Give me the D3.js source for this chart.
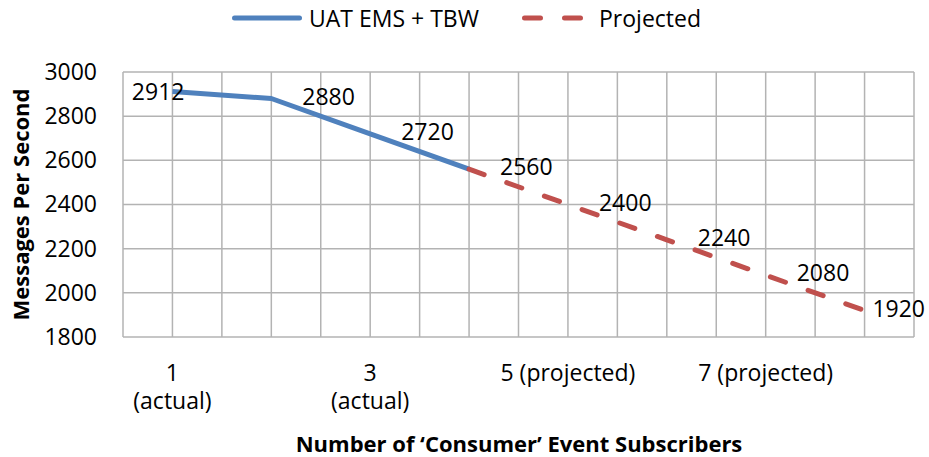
<!DOCTYPE html>
<html>
<head>
<meta charset="utf-8">
<script src="https://cdn.jsdelivr.net/npm/d3@7"></script>
<style>
  body { margin: 0; background: #fff; }
  svg { display: block; font-family: "Open Sans", sans-serif; }
</style>
</head>
<body>
<div id="chart"></div>
<script>
// chart data
const categories = ["1", "2", "3", "4", "5", "6", "7", "8"];
const actualCats = ["1", "2", "3", "4"];
const actualValues = [2912, 2880, 2720, 2560];
const projectedCats = ["4", "5", "6", "7", "8"];
const projectedValues = [2560, 2400, 2240, 2080, 1920];
const tickCats = ["1", "3", "5", "7"];
const tickLines = [["1", "(actual)"], ["3", "(actual)"], ["5 (projected)"], ["7 (projected)"]];
const yTicks = [1800, 2000, 2200, 2400, 2600, 2800, 3000];
const seriesNames = ["UAT EMS + TBW", "Projected"];

const W = 929, H = 457;
const margin = {top: 72, right: 15, bottom: 120, left: 123};
const blue = "#4F81BD", red = "#C0504D", grid = "#B3B3B3";
const fontSize = 23;

const svg = d3.select("#chart").append("svg")
    .attr("width", W)
    .attr("height", H);

// scales
const x = d3.scaleBand()
    .domain(categories)
    .range([margin.left, W - margin.right]);
const y = d3.scaleLinear()
    .domain([1800, 3000])
    .range([H - margin.bottom, margin.top]);
const cx = c => x(c) + x.bandwidth() / 2;

// gridlines (major at category edges, minor at centres)
let vLines = [];
categories.forEach(c => { vLines.push(x(c)); vLines.push(cx(c)); });
vLines.push(x.range()[1]);

svg.append("g").selectAll("line")
    .data(yTicks)
    .enter().append("line")
    .attr("x1", x.range()[0]).attr("x2", x.range()[1])
    .attr("y1", d => y(d)).attr("y2", d => y(d))
    .attr("stroke", grid).attr("stroke-width", 1.5);

svg.append("g").selectAll("line")
    .data(vLines)
    .enter().append("line")
    .attr("x1", d => d).attr("x2", d => d)
    .attr("y1", y(3000)).attr("y2", y(1800))
    .attr("stroke", grid).attr("stroke-width", 1.5);

// y axis
const yAxis = d3.axisLeft(y).tickValues(yTicks).tickFormat(d3.format("d")).tickSize(0).tickPadding(26);
svg.append("g")
    .attr("transform", `translate(${margin.left},0)`)
    .call(yAxis)
    .call(g => g.select(".domain").remove())
    .selectAll("text")
    .attr("font-family", "'Open Sans', sans-serif")
    .attr("font-size", fontSize)
    .attr("fill", "#000");

// x tick labels
const xt = svg.append("g").selectAll("text")
    .data(tickCats)
    .enter().append("text")
    .attr("x", d => cx(d))
    .attr("y", 381)
    .attr("text-anchor", "middle")
    .attr("font-size", fontSize)
    .attr("fill", "#000");
xt.each(function(d, i) {
    d3.select(this).selectAll("tspan")
        .data(tickLines[i])
        .enter().append("tspan")
        .attr("x", cx(d))
        .attr("dy", (t, j) => j === 0 ? 0 : 28)
        .text(t => t);
});

// lines
const line = d3.line().x(d => cx(d[0])).y(d => y(d[1]));

svg.append("path")
    .datum(d3.zip(actualCats, actualValues))
    .attr("d", line)
    .attr("fill", "none")
    .attr("stroke", blue)
    .attr("stroke-width", 5)
    .attr("stroke-linejoin", "round");

svg.append("path")
    .datum(d3.zip(projectedCats, projectedValues))
    .attr("d", line)
    .attr("fill", "none")
    .attr("stroke", red)
    .attr("stroke-width", 5)
    .attr("stroke-linecap", "round")
    .attr("stroke-dasharray", "16 24");

// data labels
let labelData = d3.zip(actualCats, actualValues)
    .concat(d3.zip(projectedCats, projectedValues).slice(1));

svg.append("g").selectAll("text")
    .data(labelData)
    .enter().append("text")
    .attr("font-size", fontSize)
    .attr("fill", "#000")
    .attr("dominant-baseline", "central")
    .attr("y", (d, i) => y(d[1]) + (i === 0 ? 0 : -3))
    .text(d => d[1])
    .attr("x", function(d, i) {
        let w = this.getComputedTextLength();
        if (i === 0) return cx(d[0]) + 12 - w;
        return Math.min(cx(d[0]) + 31, W - 4 - w);
    });

// axis titles
svg.append("text")
    .attr("x", 519)
    .attr("y", 452)
    .attr("text-anchor", "middle")
    .attr("font-size", 22)
    .attr("font-weight", "bold")
    .text("Number of \u2018Consumer\u2019 Event Subscribers");

svg.append("text")
    .attr("transform", `translate(29, ${(y(3000) + y(1800)) / 2}) rotate(-90)`)
    .attr("text-anchor", "middle")
    .attr("font-size", 22)
    .attr("font-weight", "bold")
    .text("Messages Per Second");

// legend
const legend = svg.append("g");
legend.append("line")
    .attr("x1", 234.5).attr("x2", 299.5).attr("y1", 18).attr("y2", 18)
    .attr("stroke", blue).attr("stroke-width", 5).attr("stroke-linecap", "round");
legend.append("text")
    .attr("x", 309).attr("y", 27)
    .attr("font-size", fontSize)
    .text(seriesNames[0]);
legend.append("line")
    .attr("x1", 524.5).attr("x2", 580.5).attr("y1", 18).attr("y2", 18)
    .attr("stroke", red).attr("stroke-width", 5).attr("stroke-linecap", "round")
    .attr("stroke-dasharray", "16 24");
legend.append("text")
    .attr("x", 599).attr("y", 27)
    .attr("font-size", fontSize)
    .text(seriesNames[1]);
</script>
</body>
</html>
